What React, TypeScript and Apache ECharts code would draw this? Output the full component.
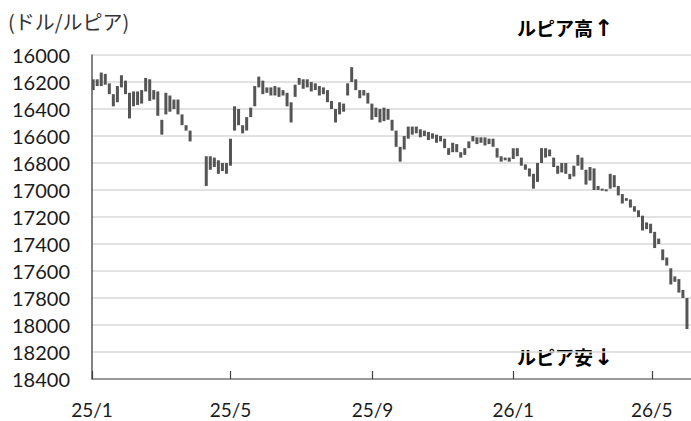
import { useEffect, useRef } from "react";
import * as echarts from "echarts";

// Bars: one every 3.5 calendar days starting 2025-01-02; each pair = [open, close] in IDR per USD
const startDate = "2025-01-02";
const stepDays = 3.5;

const rates2025H1: ([number, number] | null)[] = [
  [16260, 16180], [16180, 16230], [16230, 16130], [16140, 16220], [16210, 16290],
  [16290, 16380], [16350, 16230], [16240, 16150], [16190, 16290], [16280, 16470],
  [16380, 16270], [16270, 16370], [16360, 16260], [16270, 16170], [16180, 16340],
  [16330, 16260], [16270, 16450], [16480, 16590], [16440, 16280], [16300, 16420],
  [16400, 16330], [16330, 16440], [16440, 16520], [16520, 16560], [16560, 16640],
  null, null, null,
  [16750, 16970], [16750, 16850], [16830, 16760], [16780, 16880], [16860, 16800],
  [16800, 16880], [16820, 16620], [16560, 16380], [16400, 16520], [16520, 16580],
  [16560, 16460], [16460, 16390], [16380, 16230], [16240, 16160], [16190, 16290],
  [16280, 16240], [16240, 16300], [16300, 16230], [16240, 16310], [16300, 16260],
  [16280, 16380], [16350, 16500],
];

const rates2025H2: [number, number][] = [
  [16310, 16220], [16220, 16170], [16180, 16250], [16240, 16180], [16200, 16270],
  [16260, 16210], [16230, 16300], [16290, 16240], [16260, 16350], [16340, 16400],
  [16400, 16500], [16440, 16350], [16360, 16420], [16300, 16210], [16200, 16090],
  [16180, 16260], [16260, 16320], [16300, 16260], [16280, 16360], [16360, 16480],
  [16460, 16390], [16400, 16500], [16490, 16390], [16400, 16480], [16480, 16560],
  [16560, 16680], [16680, 16790], [16700, 16600], [16620, 16530], [16530, 16590],
  [16580, 16530], [16550, 16610], [16600, 16560], [16570, 16630], [16620, 16580],
  [16590, 16650], [16640, 16600], [16620, 16690], [16690, 16740], [16720, 16650],
  [16660, 16720], [16720, 16760], [16740, 16690], [16690, 16640], [16640, 16600],
  [16610, 16660], [16650, 16610], [16610, 16670], [16660, 16620], [16620, 16680],
  [16690, 16760], [16750, 16790], [16780, 16760], [16760, 16790],
];

const rates2026: [number, number][] = [
  [16770, 16690], [16690, 16750], [16760, 16820], [16810, 16850], [16840, 16900],
  [16880, 16990], [16940, 16800], [16800, 16690], [16690, 16760], [16750, 16700],
  [16760, 16830], [16820, 16880], [16870, 16800], [16800, 16880], [16880, 16920],
  [16900, 16820], [16820, 16740], [16760, 16850], [16850, 16960], [16930, 16830],
  [16840, 17000], [16970, 17000], [16990, 17000], [16995, 17000], [16990, 16880],
  [16890, 16980], [16970, 17040], [17030, 17100], [17080, 17060], [17070, 17130],
  [17120, 17160], [17150, 17200], [17190, 17300], [17290, 17240], [17250, 17320],
  [17310, 17430], [17400, 17360], [17440, 17520], [17500, 17560], [17580, 17700],
  [17680, 17640], [17660, 17760], [17740, 17800], [17800, 18030],
];

const tickDates = ["2025-01-01", "2025-05-01", "2025-09-01", "2026-01-01", "2026-05-01"];
const tickLabels = ["25/1", "25/5", "25/9", "26/1", "26/5"];
const axisEndDate = "2026-06-04";

const yMin = 16000;
const yMax = 18400;
const yStep = 200;

const titleText = "(ドル/ルピア)";
const upLabel = "ルピア高";
const upArrow = "↑";
const downLabel = "ルピア安";
const downArrow = "↓";

const DAY = 86400000;
const dayOf = (s: string) => (Date.parse(s + "T00:00:00Z") - Date.parse(tickDates[0] + "T00:00:00Z")) / DAY;

export default function App() {
  const ref = useRef<HTMLDivElement>(null);
  useEffect(() => {
    if (!ref.current) return;
    const chart = echarts.init(ref.current, undefined, { renderer: "svg" });
    const all = [...rates2025H1, ...rates2025H2, ...rates2026];
    const start = dayOf(startDate);
    const data: number[][] = [];
    all.forEach((r, i) => {
      if (r) data.push([start + i * stepDays, r[0], r[1]]);
    });
    const tickDays = tickDates.map(dayOf);
    const fontNum = "Lato, 'Liberation Sans', sans-serif";
    const fontJp = "'Noto Sans CJK JP', sans-serif";
    const richText = {
      t: { fontSize: 19, fontWeight: "bold", fontFamily: fontJp, color: "#111111" },
      a: { fontSize: 23, fontWeight: "bold", fontFamily: "'DejaVu Sans', sans-serif", color: "#111111", padding: [0, 0, 0, 1] },
    };
    chart.setOption({
      animation: false,
      backgroundColor: "#ffffff",
      grid: { left: 92, right: 0, top: 55, bottom: 42, containLabel: false },
      xAxis: {
        type: "value",
        min: 0,
        max: dayOf(axisEndDate),
        splitLine: { show: false },
        axisLine: { show: true, lineStyle: { color: "#808080", width: 1.5 } },
        axisTick: {
          show: true,
          inside: true,
          length: 8,
          customValues: tickDays,
          lineStyle: { color: "#404040", width: 1.2 },
        },
        axisLabel: {
          customValues: tickDays,
          margin: 20,
          fontSize: 19,
          lineHeight: 20,
          fontFamily: fontNum,
          color: "#1a1a1a",
          formatter: (v: number) => {
            const k = tickDays.findIndex((d) => Math.abs(d - v) < 0.01);
            return k >= 0 ? tickLabels[k] : "";
          },
        },
      },
      yAxis: {
        type: "value",
        inverse: true,
        min: yMin,
        max: yMax,
        interval: yStep,
        axisLine: { show: true, lineStyle: { color: "#595959", width: 1.5 } },
        axisTick: { show: false },
        splitLine: { show: true, lineStyle: { color: "#d9d9d9", width: 1.5 } },
        axisLabel: {
          margin: 22,
          fontSize: 20,
          fontFamily: fontNum,
          color: "#1a1a1a",
          formatter: (v: number) => String(v),
        },
      },
      series: [
        {
          type: "custom",
          clip: true,
          encode: { x: 0, y: [1, 2] },
          data,
          renderItem: (_params: any, api: any) => {
            const x = api.value(0);
            const p1 = api.coord([x, api.value(1)]);
            const p2 = api.coord([x, api.value(2)]);
            const w = 3;
            const top = Math.min(p1[1], p2[1]);
            const h = Math.max(Math.abs(p2[1] - p1[1]), 2);
            return {
              type: "rect",
              shape: { x: p1[0] - w / 2, y: top, width: w, height: h },
              style: { fill: "#555555" },
            };
          },
        },
      ],
      graphic: [
        {
          type: "text",
          left: 8,
          top: 11,
          style: { text: titleText, fontSize: 20, fontFamily: fontJp, fill: "#333333" },
        },
        {
          type: "text",
          left: 517,
          top: 16,
          style: { text: `{t|${upLabel}}{a|${upArrow}}`, rich: richText, verticalAlign: "top" },
        },
        {
          type: "text",
          left: 517,
          top: 345,
          style: { text: `{t|${downLabel}}{a|${downArrow}}`, rich: richText, verticalAlign: "top" },
        },
      ],
    });
    return () => chart.dispose();
  }, []);
  return <div ref={ref} style={{ width: 691, height: 421, position: "fixed", left: 0, top: 0 }} />;
}
